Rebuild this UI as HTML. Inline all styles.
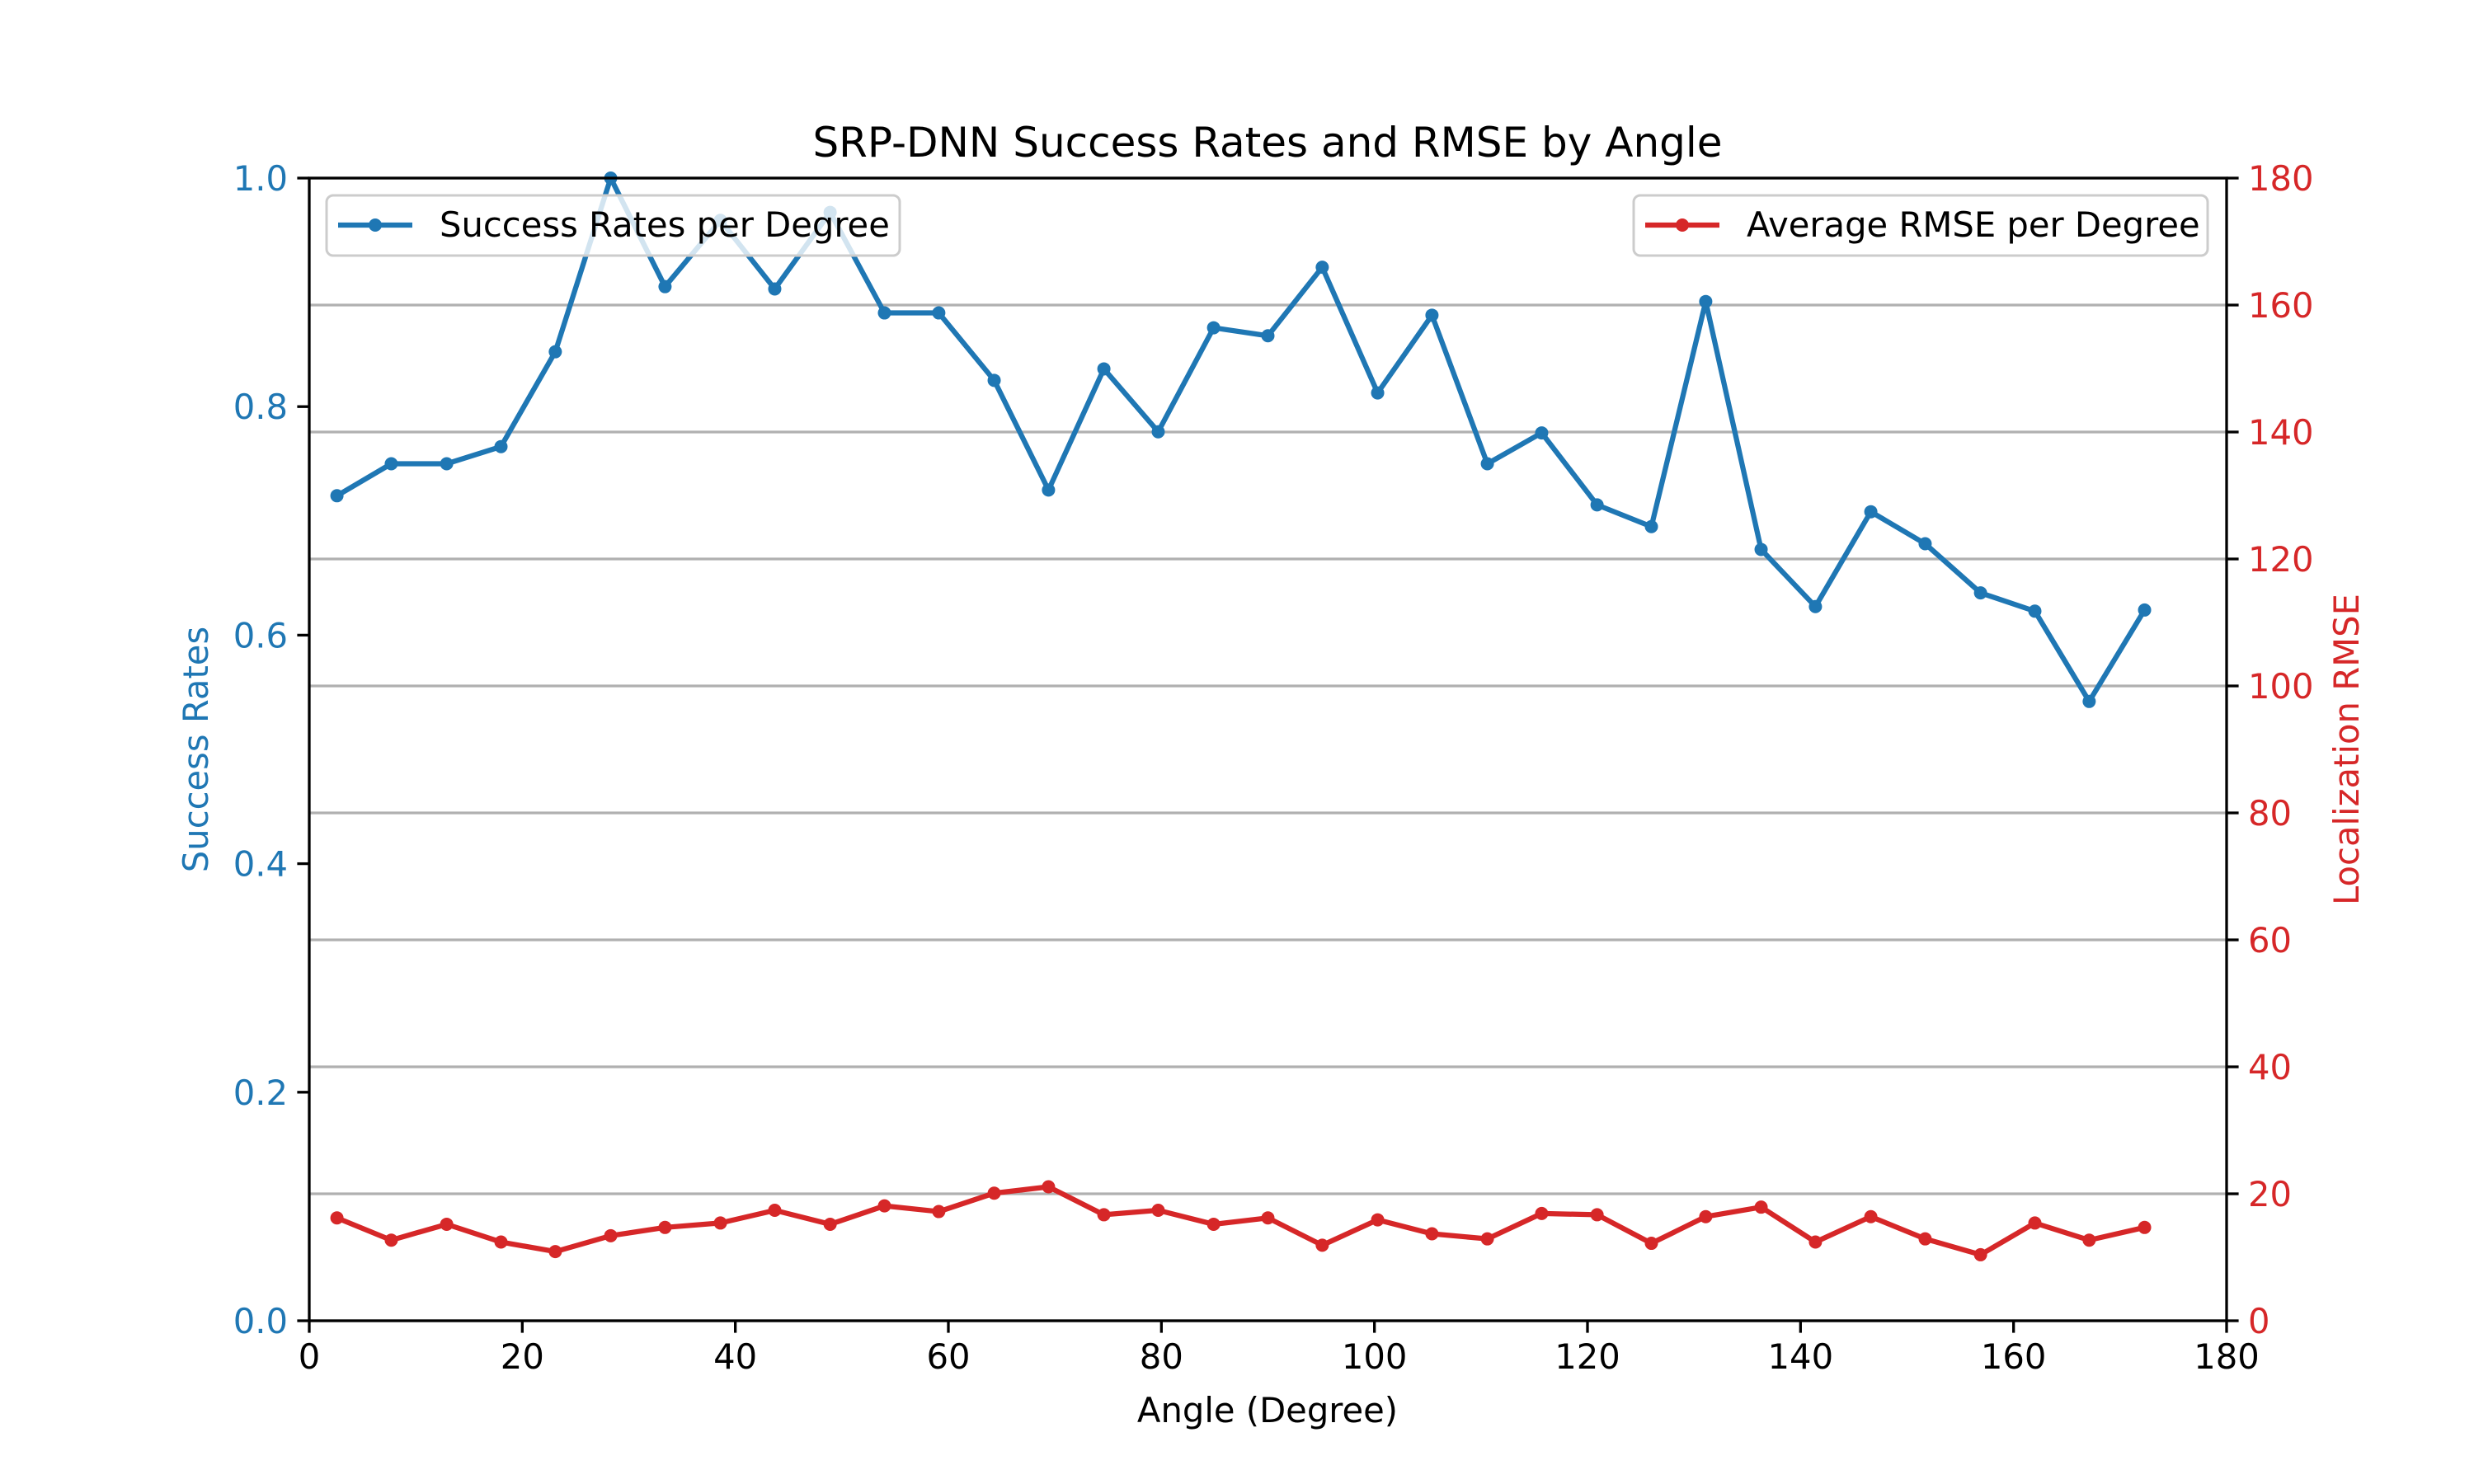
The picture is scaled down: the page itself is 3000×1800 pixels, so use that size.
<!DOCTYPE html>
<html><head><meta charset="utf-8"><style>
html,body{margin:0;padding:0;background:#fff;}
svg{display:block;font-family:"DejaVu Sans","Liberation Sans",sans-serif;}
</style></head><body>
<svg id="chart" width="3000" height="1800" viewBox="0 0 3000 1800" xmlns="http://www.w3.org/2000/svg">
<rect width="3000" height="1800" fill="#fff"/>
<g id="grid"></g>
<g id="lines"></g>
<g id="axes"></g>
<text x="1537" y="190" font-size="50" text-anchor="middle">SRP-DNN Success Rates and RMSE by Angle</text>
<text x="1537" y="1725" font-size="41.7" text-anchor="middle">Angle (Degree)</text>
<text transform="translate(252,909) rotate(-90)" font-size="41.7" text-anchor="middle" fill="#1f77b4">Success Rates</text>
<text transform="translate(2860,909) rotate(-90)" font-size="41.7" text-anchor="middle" fill="#d62728">Localization RMSE</text>
<g>
<rect x="396" y="237" width="695" height="73" rx="8" fill="#fff" fill-opacity="0.8" stroke="#cccccc" stroke-width="3"/>
<line x1="410" y1="273" x2="500" y2="273" stroke="#1f77b4" stroke-width="6.25"/>
<circle cx="455" cy="273" r="8" fill="#1f77b4"/>
<text x="533" y="287" font-size="41.7">Success Rates per Degree</text>
</g>
<g>
<rect x="1981" y="237" width="696" height="73" rx="8" fill="#fff" fill-opacity="0.8" stroke="#cccccc" stroke-width="3"/>
<line x1="1995" y1="273" x2="2085" y2="273" stroke="#d62728" stroke-width="6.25"/>
<circle cx="2040" cy="273" r="8" fill="#d62728"/>
<text x="2118" y="287" font-size="41.7">Average RMSE per Degree</text>
</g>
</svg>
<script>
const angles = [2.6,7.7,12.9,18.0,23.1,28.3,33.4,38.6,43.7,48.9,54.0,59.1,64.3,69.4,74.6,79.7,84.9,90.0,95.1,100.3,105.4,110.6,115.7,120.9,126.0,131.1,136.3,141.4,146.6,151.7,156.9,162.0,167.1,172.3];
const successRates = [0.722,0.75,0.75,0.765,0.848,1.0,0.905,0.963,0.903,0.97,0.882,0.882,0.823,0.727,0.833,0.778,0.869,0.862,0.922,0.812,0.88,0.75,0.777,0.714,0.695,0.892,0.675,0.625,0.708,0.68,0.637,0.621,0.542,0.622];
const rmse = [16.2,12.7,15.2,12.4,10.9,13.4,14.7,15.4,17.4,15.2,18.1,17.2,20.1,21.1,16.7,17.4,15.2,16.2,11.9,15.9,13.7,12.9,16.9,16.7,12.2,16.4,17.9,12.4,16.4,12.9,10.4,15.4,12.7,14.7];
const xTicks = [0,20,40,60,80,100,120,140,160,180];
const leftTicks = [0.0,0.2,0.4,0.6,0.8,1.0];
const rightTicks = [0,20,40,60,80,100,120,140,160,180];

const L=375,R=2700,T=216,B=1602;
const sx=v=>L+(v-0)/180*(R-L);
const syL=v=>B-v/1.0*(B-T);
const syR=v=>B-v/180*(B-T);
const NS="http://www.w3.org/2000/svg";
function mk(tag,attrs,parent){const e=document.createElementNS(NS,tag);for(const k in attrs)e.setAttribute(k,attrs[k]);parent.appendChild(e);return e;}
const grid=document.getElementById('grid'),lines=document.getElementById('lines'),axes=document.getElementById('axes');
rightTicks.forEach(t=>{const y=syR(t);
 const g=mk('line',{x1:L,x2:R,y1:y,y2:y,stroke:'#b0b0b0','stroke-width':3.3},grid);
 
 
});
function series(xs,ys,fy,color,name){
 const grp=mk('g',{},lines);
 
 
 const p=mk('polyline',{points:xs.map((x,i)=>sx(x)+','+fy(ys[i])).join(' '),fill:'none',stroke:color,'stroke-width':6.25,'stroke-linejoin':'round'},grp);
 
 
 xs.forEach((x,i)=>{const c=mk('circle',{cx:sx(x),cy:fy(ys[i]),r:8,fill:color},grp);
  
  
 });
}
series(angles,successRates,syL,'#1f77b4','success-rate');
series(angles,rmse,syR,'#d62728','rmse');
const frame=mk('rect',{x:L,y:T,width:R-L,height:B-T,fill:'none',stroke:'#000','stroke-width':3.3},axes);


xTicks.forEach(t=>{const x=sx(t);
 mk('line',{x1:x,x2:x,y1:B,y2:B+14.6,stroke:'#000','stroke-width':3.3},axes);
 const tx=mk('text',{x:x,y:B+58,'font-size':41.7,'text-anchor':'middle'},axes);tx.textContent=t;
 
 
});
leftTicks.forEach(t=>{const y=syL(t);
 mk('line',{x1:L-14.6,x2:L,y1:y,y2:y,stroke:'#000','stroke-width':3.3},axes);
 const tx=mk('text',{x:L-26,y:y+15,'font-size':41.7,'text-anchor':'end',fill:'#1f77b4'},axes);tx.textContent=t.toFixed(1);
 
 
});
rightTicks.forEach(t=>{const y=syR(t);
 mk('line',{x1:R,x2:R+14.6,y1:y,y2:y,stroke:'#000','stroke-width':3.3},axes);
 const tx=mk('text',{x:R+26,y:y+15,'font-size':41.7,'text-anchor':'start',fill:'#d62728'},axes);tx.textContent=t;
 
 
});
</script>
</body></html>
